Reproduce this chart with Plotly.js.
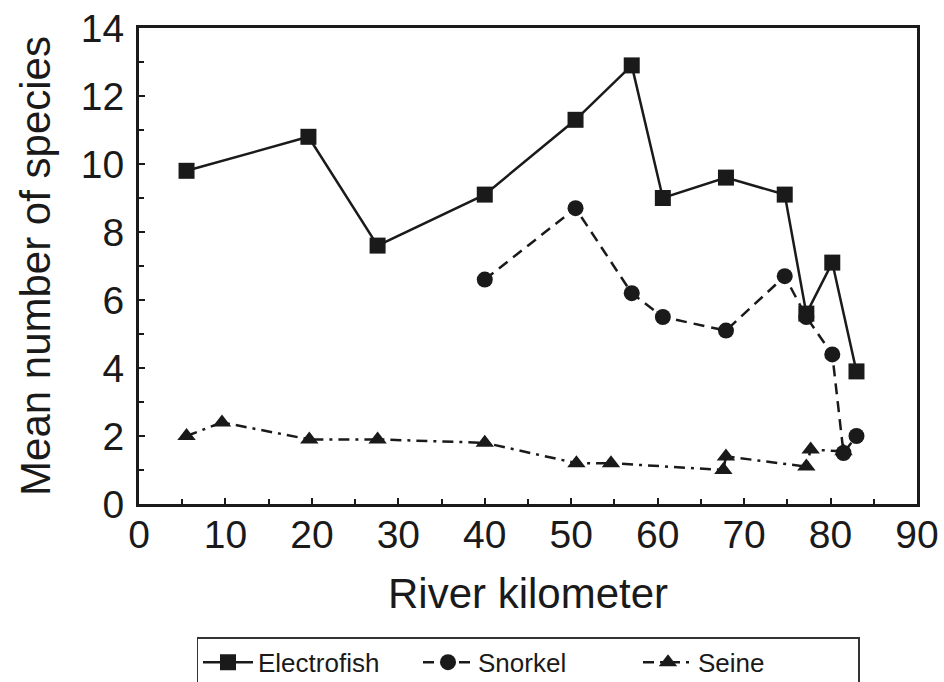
<!DOCTYPE html>
<html>
<head>
<meta charset="utf-8">
<script src="https://cdn.plot.ly/plotly-3.0.1.min.js"></script>
<style>html,body{margin:0;padding:0;background:#fff;overflow:hidden}#chart{width:944px;height:682px}</style>
</head>
<body>
<div id="chart"></div>
<script>
// Electrofish
var electroX = [5.5, 19.6, 27.6, 40.0, 50.5, 57.0, 60.6, 67.9, 74.7, 77.2, 80.2, 83.0];
var electroY = [9.8, 10.8, 7.6, 9.1, 11.3, 12.9, 9.0, 9.6, 9.1, 5.6, 7.1, 3.9];
// Snorkel
var snorkelX = [40.0, 50.5, 57.0, 60.6, 67.9, 74.7, 77.2, 80.2, 81.5, 83.0];
var snorkelY = [6.6, 8.7, 6.2, 5.5, 5.1, 6.7, 5.5, 4.4, 1.5, 2.0];
// Seine
var seineX = [5.5, 9.6, 19.7, 27.6, 40.0, 50.6, 54.6, 67.6, 67.9, 77.2, 77.7, 81.5];
var seineY = [2.0, 2.4, 1.9, 1.9, 1.8, 1.2, 1.2, 1.0, 1.4, 1.1, 1.6, 1.55];

var seriesNames = ['Electrofish', 'Snorkel', 'Seine'];
var xTitle = 'River kilometer';
var yTitle = 'Mean number of species';

var ink = '#1a1a1a';
var font = 'Liberation Sans, Arial, sans-serif';

var traces = [
  {x: electroX, y: electroY, name: seriesNames[0], type: 'scatter', mode: 'lines+markers',
   line: {color: ink, width: 2.5}, marker: {symbol: 'square', size: 16, color: ink}},
  {x: snorkelX, y: snorkelY, name: seriesNames[1], type: 'scatter', mode: 'lines+markers',
   line: {color: ink, width: 2.5, dash: '11px,7px'}, marker: {symbol: 'circle', size: 16, color: ink}},
  {x: seineX, y: seineY, name: seriesNames[2], type: 'scatter', mode: 'lines+markers',
   line: {color: ink, width: 2.5, dash: '11px,6px,3px,6px'}, marker: {symbol: 'triangle-up', size: 16, color: ink}}
];

var axisCommon = {
  showgrid: false, zeroline: false, showline: true, mirror: true,
  linecolor: ink, linewidth: 3,
  ticks: 'inside', ticklen: 6, tickwidth: 2, tickcolor: ink,
  tickfont: {family: font, size: 39, color: ink}
};

var layout = {
  width: 944, height: 682,
  margin: {l: 139, r: 27, t: 28, b: 178, autoexpand: false},
  paper_bgcolor: '#fff', plot_bgcolor: '#fff',
  font: {family: font, color: ink},
  showlegend: true,
  xaxis: Object.assign({}, axisCommon, {
    range: [0, 90], tickvals: [0,10,20,30,40,50,60,70,80,90],
    minor: {tickvals: [5,15,25,35,45,55,65,75,85], ticks: 'inside', ticklen: 5, tickwidth: 2, tickcolor: ink},
    ticklabelstandoff: -6,
    title: {text: xTitle, font: {family: font, size: 42, color: ink}, standoff: 24}
  }),
  yaxis: Object.assign({}, axisCommon, {
    range: [0, 14], tickvals: [0,2,4,6,8,10,12,14],
    minor: {tickvals: [1,3,5,7,9,11,13], ticks: 'inside', ticklen: 5, tickwidth: 2, tickcolor: ink},
    ticklabelstandoff: 4,
    title: {text: yTitle, font: {family: font, size: 42, color: ink}, standoff: 18}
  }),
  legend: {
    orientation: 'h', x: 0.5, xanchor: 'center', y: -0.28, yanchor: 'top',
    bordercolor: '#333', borderwidth: 1.5, bgcolor: '#fff',
    font: {family: font, size: 26, color: ink},
    itemsizing: 'trace', itemwidth: 50,
    entrywidth: 155, entrywidthmode: 'pixels'
  }
};

Plotly.newPlot('chart', traces, layout, {staticPlot: true, displayModeBar: false});
</script>
</body>
</html>
